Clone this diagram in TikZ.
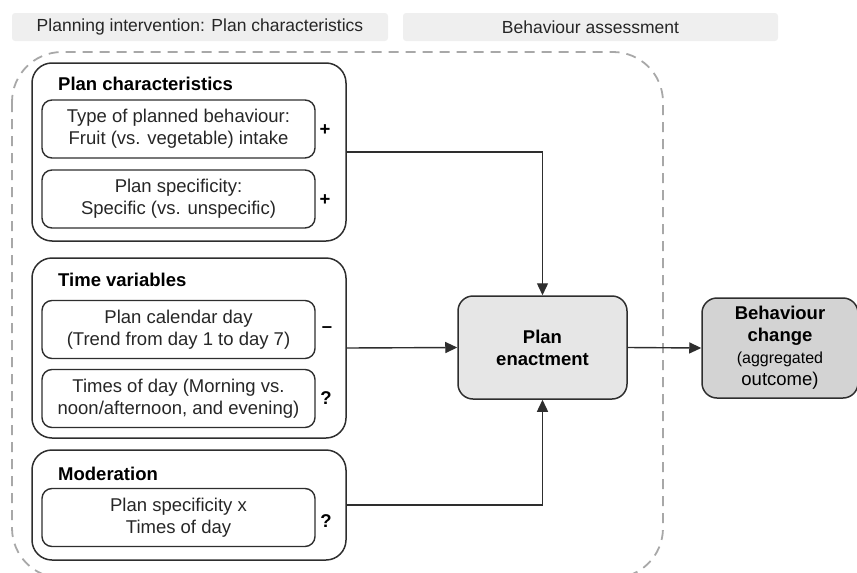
\documentclass[tikz,border=0pt]{standalone}
\usepackage{fontspec}
\setmainfont{Liberation Sans}
\usetikzlibrary{arrows.meta}
\definecolor{edge}{HTML}{2E2E2E}
\definecolor{headfill}{HTML}{EFEFEF}
\definecolor{zonegray}{HTML}{A8A8A8}
\definecolor{enactfill}{HTML}{E6E6E6}
\definecolor{changefill}{HTML}{D3D3D3}
\newcommand{\txt}{\fontsize{18.5}{22}\selectfont}
\newcommand{\headtxt}{\fontsize{17.5}{21}\selectfont}
\newcommand{\smalltxt}{\fontsize{16}{20.5}\selectfont}
\tikzset{
  header/.style={fill=headfill, rounded corners=3pt, minimum height=28pt, inner sep=0pt, font=\headtxt, text=black!85},
  group/.style={draw=edge, line width=1.5pt, rounded corners=20pt, inner sep=0pt},
  item/.style={draw=edge, line width=1.4pt, rounded corners=10pt, minimum width=273pt, minimum height=58pt, inner sep=0pt, align=center, font=\txt, text=black!85},
  grouptitle/.style={anchor=west, inner sep=0pt, font=\txt\bfseries},
  sign/.style={inner sep=0pt, font=\txt\bfseries},
  core/.style={draw=edge, line width=1.5pt, rounded corners=15pt, inner sep=0pt, align=center},
  link/.style={draw=edge, line width=1.4pt, -{Triangle[length=12pt,width=11pt]}},
}
\begin{document}
\begin{tikzpicture}[x=1pt,y=-1pt]
\useasboundingbox (0,0) rectangle (857,573);
\clip (0,0) rectangle (857,573);

% column headers
\node[header, minimum width=376pt] (h1) at (200,27) {Planning intervention: Plan characteristics};
\node[header, minimum width=375pt] (h2) at (590.5,27) {Behaviour assessment};

% dashed zone of the planning intervention
\draw[zonegray, line width=1.8pt, dash pattern=on 10pt off 7pt, rounded corners=50pt]
  (12,52) rectangle (663,578);

% group: plan characteristics
\node[group, minimum width=314pt, minimum height=178pt] (g1) at (189,152) {};
\node[grouptitle] (t1) at (58,84) {Plan characteristics};
\node[item] (b1) at (178.5,129) {Type of planned behaviour:\\Fruit (vs. vegetable) intake};
\node[item] (b2) at (178.5,199) {Plan specificity:\\Specific (vs. unspecific)};
\node[sign] (s1) at (325,130) {+};
\node[sign] (s2) at (325,200) {+};

% group: time variables
\node[group, minimum width=314pt, minimum height=180pt] (g2) at (189,348) {};
\node[grouptitle] (t2) at (58,280) {Time variables};
\node[item] (b3) at (178.5,329.5) {Plan calendar day\\(Trend from day 1 to day 7)};
\node[item] (b4) at (178.5,398.5) {Times of day (Morning vs.\\noon/afternoon, and evening)};
\node[sign] (s3) at (327,330) {--};
\node[sign] (s4) at (326,398) {?};

% group: moderation
\node[group, minimum width=314pt, minimum height=110pt] (g3) at (189,505) {};
\node[grouptitle] (t3) at (58,474) {Moderation};
\node[item] (b5) at (178.5,517.5) {Plan specificity x\\Times of day};
\node[sign] (s5) at (326,521) {?};

% outcomes
\node[core, fill=enactfill, minimum width=169pt, minimum height=103pt, font=\txt\bfseries] (pe) at (542.5,347.5) {Plan\\enactment};
\node[core, fill=changefill, minimum width=156pt, minimum height=100pt, font=\txt] (bc) at (780,348)
  {\textbf{Behaviour}\\\textbf{change}\\\smalltxt(aggregated\\outcome)};

% connectors
\draw[link] (g1.east) -| (pe.north);
\draw[link] (g2.east) -- (pe.west);
\draw[link] (g3.east) -| (pe.south);
\draw[link] (pe.east) -- (bc.west);
\end{tikzpicture}
\end{document}
